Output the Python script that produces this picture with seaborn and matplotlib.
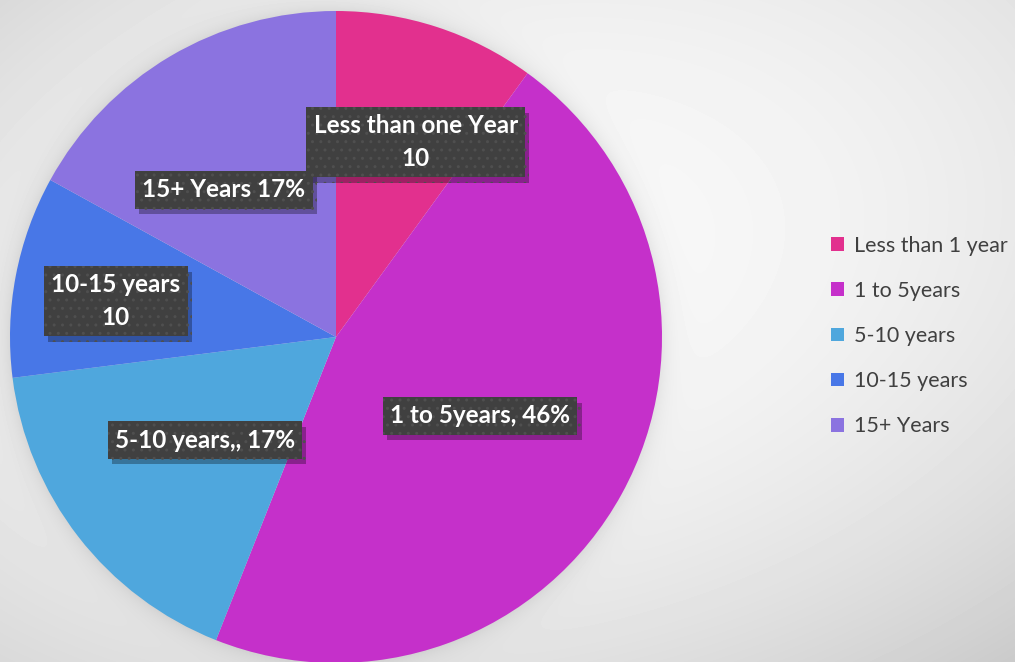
import numpy as np
import matplotlib
matplotlib.use("Agg")
import matplotlib.pyplot as plt
import matplotlib.patheffects as pe
import seaborn as sns
from matplotlib.patches import Patch

# Tenure groups and their shares
categories = ["Less than 1 year", "1 to 5years", "5-10 years", "10-15 years", "15+ Years"]
shares = [10, 46, 17, 10, 17]
slice_labels = ["Less than one Year\n10", "1 to 5years, 46%", "5-10 years,, 17%",
                "10-15 years\n10", "15+ Years 17%"]
slice_colors = ["#E2308E", "#C530CA", "#4FA7DD", "#4877E7", "#8B73E0"]

# Label anchor points, in units of the pie radius
label_pos = [(0.245, 0.598), (0.442, -0.242), (-0.402, -0.316), (-0.675, 0.110), (-0.344, 0.451)]

sns.set_theme(style="white")
plt.rcParams["font.family"] = ["Lato", "DejaVu Sans"]

W, H, DPI = 1015, 662, 100
fig = plt.figure(figsize=(W / DPI, H / DPI), dpi=DPI)

# Soft grey backdrop, lighter through the middle, with a faint halo round the pie
cx, cy, R = 336, 337, 326
yy, xx = np.mgrid[0:H, 0:W] + 0.5
X, Y = xx / W, yy / H
a = ((X - 0.5) + (Y - 0.4)) / np.sqrt(2)
b = ((X - 0.5) - (Y - 0.4)) / np.sqrt(2)
v = 0.975 - 0.30 * a ** 2 - 0.20 * b ** 2
r = np.hypot(xx - cx, yy - cy)
v -= 0.07 * np.exp(-np.clip(r - R, 0, None) / 10.0)
bg = fig.add_axes([0, 0, 1, 1], zorder=0)
bg.imshow(v, cmap="gray", vmin=0, vmax=1, aspect="auto", interpolation="bilinear")
bg.axis("off")

# Pie
ax = fig.add_axes([(cx - R) / W, (H - cy - R) / H, 2 * R / W, 2 * R / H], zorder=1)
ax.pie(shares, colors=slice_colors, startangle=90, counterclock=False, radius=1,
       wedgeprops=dict(linewidth=0))
ax.set_xlim(-1, 1)
ax.set_ylim(-1, 1)
ax.set_aspect("equal")
ax.axis("off")

for text, (lx, ly) in zip(slice_labels, label_pos):
    t = ax.text(lx, ly, text, color="white", zorder=4, ha="center", va="center",
                fontsize=17.5, fontweight="bold", linespacing=1.5,
                multialignment="center",
                bbox=dict(boxstyle="square,pad=0.3", facecolor="#404040",
                          edgecolor="#4f4f4f", linewidth=0, hatch=".."))
    t.get_bbox_patch().set_path_effects(
        [pe.SimplePatchShadow(offset=(3, -4), shadow_rgbFace="black", alpha=0.3),
         pe.Normal()])

# Legend
handles = [Patch(facecolor=c, edgecolor="none") for c in slice_colors]
fig.legend(handles, categories, loc="center left", bbox_to_anchor=(831 / W, 1 - 336 / H),
           frameon=False, fontsize=15.5, labelcolor="#404040", handlelength=0.6,
           handleheight=0.6, handletextpad=0.45, labelspacing=1.17,
           borderpad=0, borderaxespad=0)

fig.savefig("out.png", dpi=DPI)
